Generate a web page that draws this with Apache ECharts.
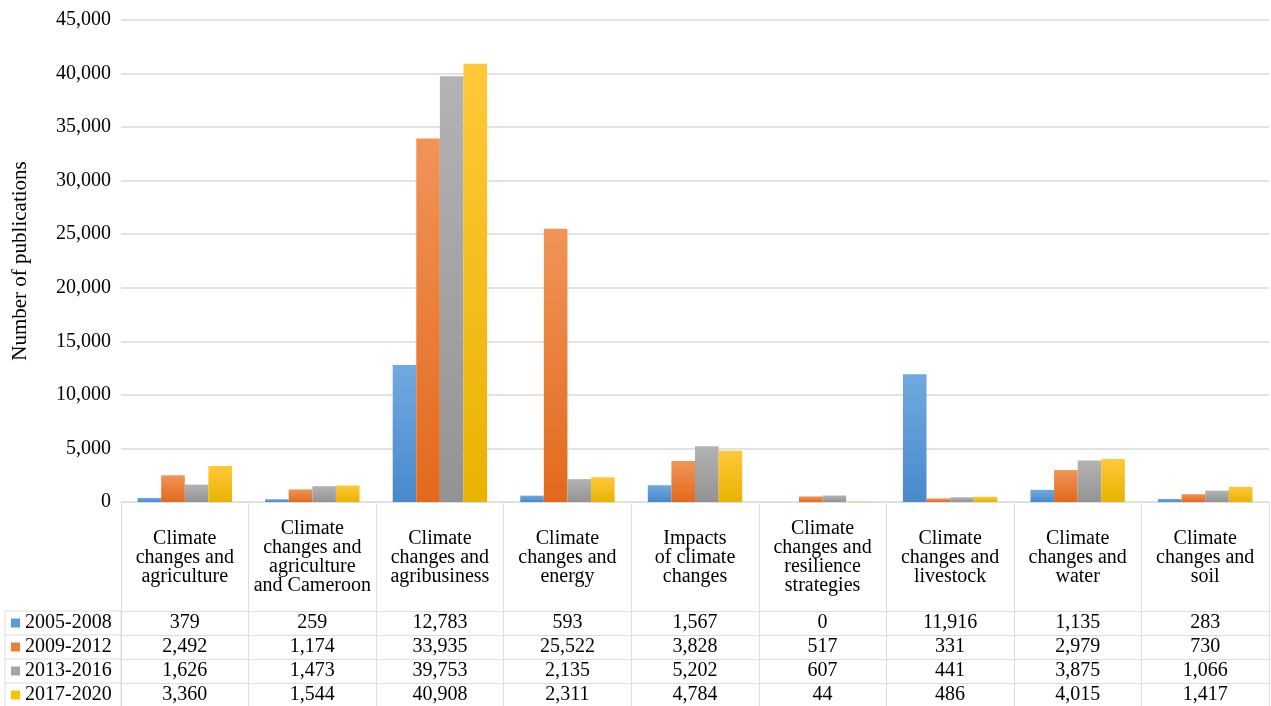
<!DOCTYPE html>
<html>
<head>
<meta charset="utf-8">
<script src="https://cdn.jsdelivr.net/npm/echarts@6/dist/echarts.min.js"></script>
<style>
  html, body { margin: 0; padding: 0; background: #fff; }
  #chart { width: 1271px; height: 706px; }
</style>
</head>
<body>
<div id="chart"></div>
<script>
// Research topics (column headers of the data table)
const categories = [
  'Climate\nchanges and\nagriculture',
  'Climate\nchanges and\nagriculture\nand Cameroon',
  'Climate\nchanges and\nagribusiness',
  'Climate\nchanges and\nenergy',
  'Impacts\nof climate\nchanges',
  'Climate\nchanges and\nresilience\nstrategies',
  'Climate\nchanges and\nlivestock',
  'Climate\nchanges and\nwater',
  'Climate\nchanges and\nsoil'
];

// Publication periods
const periods = ['2005-2008', '2009-2012', '2013-2016', '2017-2020'];

// Number of publications per topic, one array per period
const pubs2005_2008 = [379, 259, 12783, 593, 1567, 0, 11916, 1135, 283];
const pubs2009_2012 = [2492, 1174, 33935, 25522, 3828, 517, 331, 2979, 730];
const pubs2013_2016 = [1626, 1473, 39753, 2135, 5202, 607, 441, 3875, 1066];
const pubs2017_2020 = [3360, 1544, 40908, 2311, 4784, 44, 486, 4015, 1417];

// Value axis range
const yMin = 0;
const yMax = 45000;
const yStep = 5000;

const periodValues = [pubs2005_2008, pubs2009_2012, pubs2013_2016, pubs2017_2020];

// Layout
const FONT = "'Liberation Serif', 'Times New Roman', serif";
const FONT_SIZE = 20;
const PLOT_LEFT = 121, PLOT_RIGHT = 2, PLOT_TOP = 20, PLOT_BOTTOM_Y = 502;
const HEADER_H = 109, ROW_H = 24, LEGEND_LEFT = 5;
const LINE_COLOR = '#d9dde5';

// Solid key colours and their bar gradients (light top, darker base)
const keyColors = ['#5b9bd5', '#ed7d31', '#a5a5a5', '#ffc000'];
const barGradients = [
  ['#71a9df', '#4889cc'],
  ['#f19458', '#e2691c'],
  ['#b3b3b3', '#939393'],
  ['#ffc83a', '#e8b300']
];

const fmt = v => Number(v).toLocaleString('en-US');

const chart = echarts.init(document.getElementById('chart'));

// Category axis carrying the topic headers
const xAxes = [{
  type: 'category',
  gridIndex: 0,
  data: categories,
  position: 'bottom',
  axisLine: { show: true, lineStyle: { color: LINE_COLOR, width: 1 } },
  axisTick: { show: true, length: HEADER_H, lineStyle: { color: LINE_COLOR, width: 1 } },
  axisLabel: {
    interval: 0,
    margin: HEADER_H / 2 + 1,
    verticalAlign: 'middle',
    align: 'center',
    fontFamily: FONT,
    fontSize: FONT_SIZE,
    lineHeight: 19,
    color: '#000'
  },
  splitLine: { show: false }
}];

// One extra axis per period: each forms a row of the data table
periodValues.forEach((vals, i) => {
  xAxes.push({
    type: 'category',
    gridIndex: 0,
    data: categories,
    position: 'bottom',
    offset: HEADER_H + ROW_H * i,
    axisLine: { show: true, lineStyle: { color: LINE_COLOR, width: 1 } },
    axisTick: { show: true, length: ROW_H, lineStyle: { color: LINE_COLOR, width: 1 } },
    axisLabel: {
      interval: 0,
      margin: ROW_H / 2,
      verticalAlign: 'middle',
      align: 'center',
      fontFamily: FONT,
      fontSize: FONT_SIZE,
      color: '#000',
      formatter: (value, idx) => fmt(vals[idx])
    },
    splitLine: { show: false }
  });
});

const tableTop = PLOT_BOTTOM_Y + HEADER_H;

// Borders of the key column on the left of the data table
const keyColumn = [{
  type: 'rect',
  shape: { x: LEGEND_LEFT, y: tableTop, width: PLOT_LEFT - LEGEND_LEFT, height: ROW_H * periods.length },
  style: { fill: 'none', stroke: LINE_COLOR, lineWidth: 1 },
  silent: true
}];
for (let i = 1; i < periods.length; i++) {
  keyColumn.push({
    type: 'line',
    shape: { x1: LEGEND_LEFT, y1: tableTop + ROW_H * i, x2: PLOT_LEFT, y2: tableTop + ROW_H * i },
    style: { stroke: LINE_COLOR, lineWidth: 1 },
    silent: true
  });
}

const option = {
  animation: false,
  backgroundColor: '#ffffff',
  textStyle: { fontFamily: FONT },
  grid: {
    left: PLOT_LEFT,
    right: PLOT_RIGHT,
    top: PLOT_TOP,
    bottom: 706 - PLOT_BOTTOM_Y,
    containLabel: false,
    outerBoundsMode: 'none'
  },
  legend: {
    orient: 'vertical',
    left: LEGEND_LEFT + 6,
    top: tableTop,
    height: 200,
    padding: 0,
    itemGap: 0,
    itemWidth: 9,
    itemHeight: 9,
    icon: 'rect',
    selectedMode: false,
    textStyle: { fontFamily: FONT, fontSize: FONT_SIZE, color: '#000', lineHeight: ROW_H },
    data: periods.map((p, i) => ({ name: p, itemStyle: { color: keyColors[i] } }))
  },
  xAxis: xAxes,
  yAxis: {
    type: 'value',
    min: yMin,
    max: yMax,
    interval: yStep,
    name: 'Number of publications',
    nameLocation: 'middle',
    nameGap: 90,
    nameTextStyle: { fontFamily: FONT, fontSize: 21, color: '#000' },
    axisLine: { show: false },
    axisTick: { show: false },
    axisLabel: {
      margin: 10,
      fontFamily: FONT,
      fontSize: FONT_SIZE,
      color: '#000',
      formatter: v => fmt(v)
    },
    splitLine: { show: true, lineStyle: { color: '#d9d9d9', width: 1.5 } }
  },
  graphic: keyColumn,
  series: periods.map((p, i) => ({
    name: p,
    type: 'bar',
    xAxisIndex: 0,
    data: periodValues[i],
    barGap: '0%',
    barCategoryGap: '26%',
    itemStyle: {
      color: new echarts.graphic.LinearGradient(0, 0, 0, 1, [
        { offset: 0, color: barGradients[i][0] },
        { offset: 1, color: barGradients[i][1] }
      ])
    }
  }))
};

chart.setOption(option);
</script>
</body>
</html>
